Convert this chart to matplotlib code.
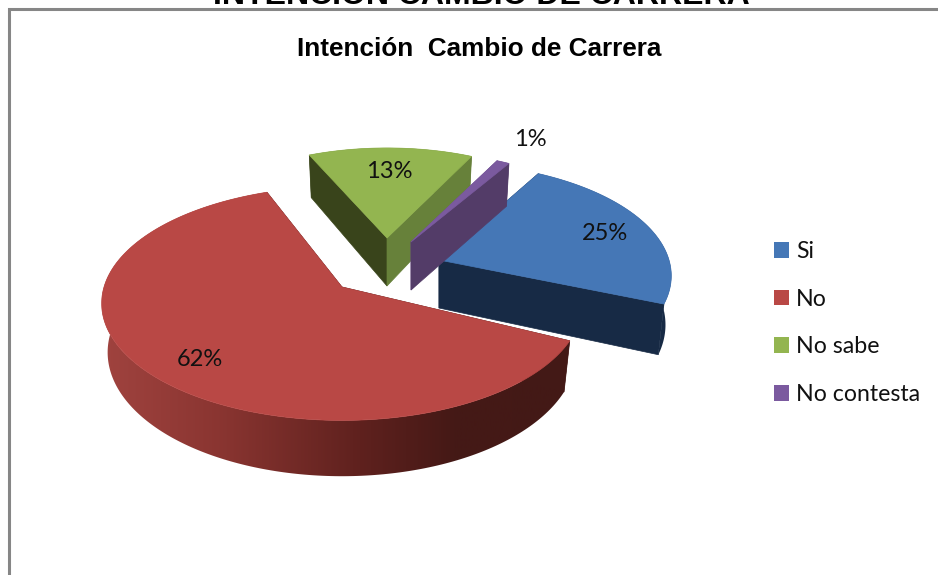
#! /usr/bin/env python

import numpy as np
import matplotlib
matplotlib.use("Agg")
import matplotlib.pyplot as plt
from matplotlib.colors import LinearSegmentedColormap
from matplotlib.patches import Patch, Polygon

categories = ["Si", "No", "No sabe", "No contesta"]
percent = [25, 62, 13, 1]
labels = ["25%", "62%", "13%", "1%"]

top_colors = ["#4577b6", "#b94845", "#93b550", "#7b5a9f"]
# the flat cut faces, first and last edge of each slice (clockwise)
start_face = ["#172a45", "#431916", "#39441b", "#6a4d8c"]
end_face = ["#172a45", "#431916", "#67813a", "#533c68"]

start_angle = 68.0
persp = 0.14
tilt = 0.482
depth = 48.0
bottom_shrink = 0.975

# position of each exploded slice in the picture (pixels) and its radius
apex_x = [439, 342, 387, 411]
apex_y = [260, 287, 238, 242]
radius = [230, 238, 213, 213]
# small corrections of the edge angles, the 3D view is not a true circle
edge_fix = [(-7, -1), (-5, -7), (-3.6, -8.1), (-8.6, -9)]
label_x = [605, 200, 389, 530]
label_y = [234, 360, 171, 140]


def project(a, r, cx, cy, low=False):
    # a in degrees, returns pixel coords of rim points of the slice
    a = np.radians(a)
    s = 1.0 / (1.0 + persp * np.sin(a))
    x = np.cos(a) * s * r
    y = -np.sin(a) * tilt * s * r
    if low:
        return cx + x * bottom_shrink, cy + y + depth * s
    return cx + x, cy + y


plt.rcParams['font.family'] = ['Lato', 'DejaVu Sans']

fig = plt.figure(figsize=(9.38, 5.75), dpi=100)
ax = fig.add_axes([0, 0, 1, 1])
ax.axis('off')

# chart frame, cut by the picture on the right and at the bottom
ax.plot([9, 9, 938], [575, 9, 9], color="#868686", lw=2.2, solid_joinstyle='miter')

red_side = LinearSegmentedColormap.from_list(
    "red_side", [(0, "#a0433f"), (0.25, "#8a3531"), (0.55, "#5f211e"), (0.75, "#451916"), (1, "#431916")])
blue_side = LinearSegmentedColormap.from_list("blue_side", ["#172a45", "#172a45"])
green_side = LinearSegmentedColormap.from_list("green_side", ["#4f6228", "#4f6228"])
purple_side = LinearSegmentedColormap.from_list("purple_side", ["#533c68", "#533c68"])
side_maps = [blue_side, red_side, green_side, purple_side]

# edges of the slices, clockwise from start_angle
edges = start_angle - np.cumsum([0] + percent) * 3.6 * 100 / sum(percent)
ramp = np.linspace(0, 1, 256).reshape(1, -1)

# green and purple at the back, then blue, red in front
for i in [2, 3, 0, 1]:
    a0 = edges[i] + edge_fix[i][0]
    a1 = edges[i + 1] + edge_fix[i][1]
    cx, cy, r = apex_x[i], apex_y[i], radius[i]
    aa = np.linspace(a0, a1, 240)

    # outer wall, shaded from left to right by a clipped image
    tx, ty = project(aa, r, cx, cy)
    bx, by = project(aa, r, cx, cy, low=True)
    wall = Polygon(np.c_[np.r_[tx, bx[::-1]], np.r_[ty, by[::-1]]], transform=ax.transData,
                   facecolor='none', edgecolor='none')
    ax.add_patch(wall)
    im = ax.imshow(ramp, cmap=side_maps[i], extent=(min(tx.min(), bx.min()), max(tx.max(), bx.max()), 575, 0),
                   aspect='auto', vmin=0, vmax=1, zorder=i + 1)
    im.set_clip_path(wall)

    # cut faces
    cb = (cx, cy + depth)
    for ang, col in [(a0, start_face[i]), (a1, end_face[i])]:
        px, py = project(ang, r, cx, cy)
        qx, qy = project(ang, r, cx, cy, low=True)
        ax.fill([cx, px, qx, cb[0]], [cy, py, qy, cb[1]], color=col, lw=0.5, zorder=i + 1.1)

    # top
    ax.fill(np.r_[cx, tx], np.r_[cy, ty], color=top_colors[i], lw=0.5, zorder=i + 1.2)

ax.set_xlim(0, 938)
ax.set_ylim(575, 0)

for i in range(len(labels)):
    ax.text(label_x[i], label_y[i], labels[i], fontsize=17, color="#111111",
            ha='center', va='center', zorder=10)

fig.text(481 / 938, 1 - 4 / 575, "INTENCIÓN CAMBIO DE CARRERA", fontsize=23, fontweight='bold',
         family='Liberation Sans', ha='center', va='baseline', color="black")
ax.text(479, 56, "Intención  Cambio de Carrera", fontsize=18.8, fontweight='bold',
        family='Liberation Sans', ha='center', va='baseline', color="black")

handles = [Patch(facecolor=c, edgecolor='none', label=n) for c, n in zip(top_colors, categories)]
ax.legend(handles=handles, loc='upper left', bbox_to_anchor=(774 / 938, 1 - 241 / 575), frameon=False,
          fontsize=16.7, labelspacing=1.15, handlelength=0.65, handleheight=0.65, handletextpad=0.3,
          labelcolor="#111111", borderpad=0, borderaxespad=0)

plt.savefig("out.png", dpi=100)
